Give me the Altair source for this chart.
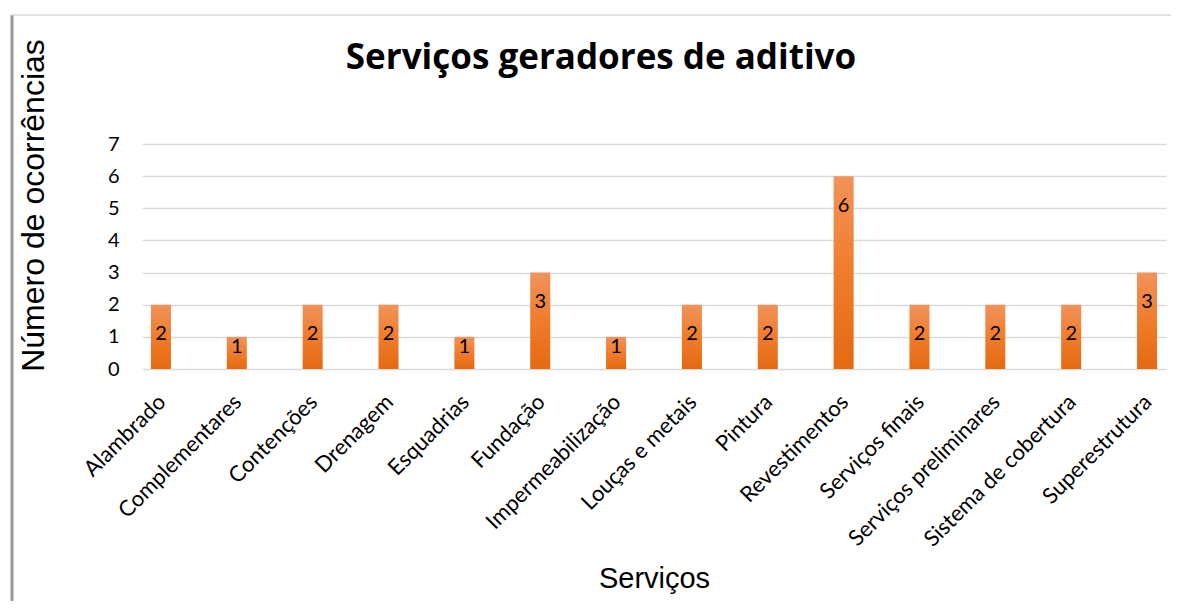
import altair as alt
import pandas as pd

titulo = "Serviços geradores de aditivo"
categorias = ["Alambrado", "Complementares", "Contenções", "Drenagem", "Esquadrias",
              "Fundação", "Impermeabilização", "Louças e metais", "Pintura",
              "Revestimentos", "Serviços finais", "Serviços preliminares",
              "Sistema de cobertura", "Superestrutura"]
ocorrencias = [2, 1, 2, 2, 1, 3, 1, 2, 2, 6, 2, 2, 2, 3]
y_ticks = [0, 1, 2, 3, 4, 5, 6, 7]

df = pd.DataFrame({"Serviço": categorias, "Ocorrências": ocorrencias})
df_one = pd.DataFrame({"t": [titulo]})

FONT_C = "Lato"
FONT_A = "Liberation Sans"

x_axis = alt.Axis(title="Serviços", labelAngle=-45, labelFont=FONT_C,
                  labelFontSize=22, labelColor="#000000", labelPadding=22,
                  labelOffset=-6, labelLimit=500, labelOverlap=False,
                  ticks=False, domain=False, titleFont=FONT_A,
                  titleFontSize=29, titleFontWeight="normal",
                  titleColor="#000000", titleY=218, titlePadding=0,
                  titleBaseline="alphabetic")
y_axis = alt.Axis(title="Número de ocorrências", values=y_ticks, format="d",
                  labelOverlap=False, tickCount=8,
                  labelFont=FONT_C, labelFontSize=20, labelColor="#000000",
                  labelPadding=23, ticks=False, domain=False,
                  gridColor="#D9D9D9", gridWidth=1.5,
                  titleFont=FONT_A, titleFontSize=32, titleFontWeight="normal",
                  titleColor="#000000", titleX=-109, titleY=61,
                  titleAlign="center", titleBaseline="middle")
x_scale = alt.Scale(paddingInner=0.736, paddingOuter=0.118)
y_scale = alt.Scale(domain=[0, 7], nice=False)

grad = alt.Gradient(gradient="linear", x1=0, x2=0, y1=0, y2=1,
                    stops=[alt.GradientStop(color="#F1935A", offset=0),
                           alt.GradientStop(color="#F07C2C", offset=0.5),
                           alt.GradientStop(color="#E46A12", offset=1)])

bars = alt.Chart(df).mark_bar(fill=grad).encode(
    x=alt.X("Serviço:N", sort=categorias, scale=x_scale, axis=x_axis),
    y=alt.Y("Ocorrências:Q", scale=y_scale, axis=y_axis))

labels = alt.Chart(df).transform_calculate(
    pos="datum['Ocorrências'] > 1 ? datum['Ocorrências'] - 0.92 : 0.68"
).mark_text(font=FONT_C, fontSize=20, color="#000000", baseline="middle").encode(
    x=alt.X("Serviço:N", sort=categorias, scale=x_scale, axis=x_axis),
    y=alt.Y("pos:Q", scale=y_scale, axis=y_axis),
    text=alt.Text("Ocorrências:Q", format="d"))

title_mark = alt.Chart(df_one).mark_text(font="Open Sans", fontSize=35, fontWeight="bold",
                                         color="#000000", align="center",
                                         baseline="alphabetic").encode(
    x=alt.value(459), y=alt.value(-75), text="t:N")

border_left = alt.Chart(df_one).mark_rule(color="#9A9A9A", strokeWidth=3).encode(
    x=alt.value(-130), y=alt.value(-129), y2=alt.value(470))
border_top = alt.Chart(df_one).mark_rule(color="#D9D9D9", strokeWidth=1.5).encode(
    x=alt.value(-130), x2=alt.value(1040), y=alt.value(-129))

chart = alt.layer(bars, labels, title_mark, border_left, border_top).properties(
    width=1024, height=225,
    background="#FFFFFF",
    padding={"left": 134, "top": 136, "right": 5, "bottom": 232},
    autosize=alt.AutoSizeParams(type="none"),
).configure_view(strokeWidth=0)

chart.save("out.html", embed_options={"renderer": "svg", "actions": False})
